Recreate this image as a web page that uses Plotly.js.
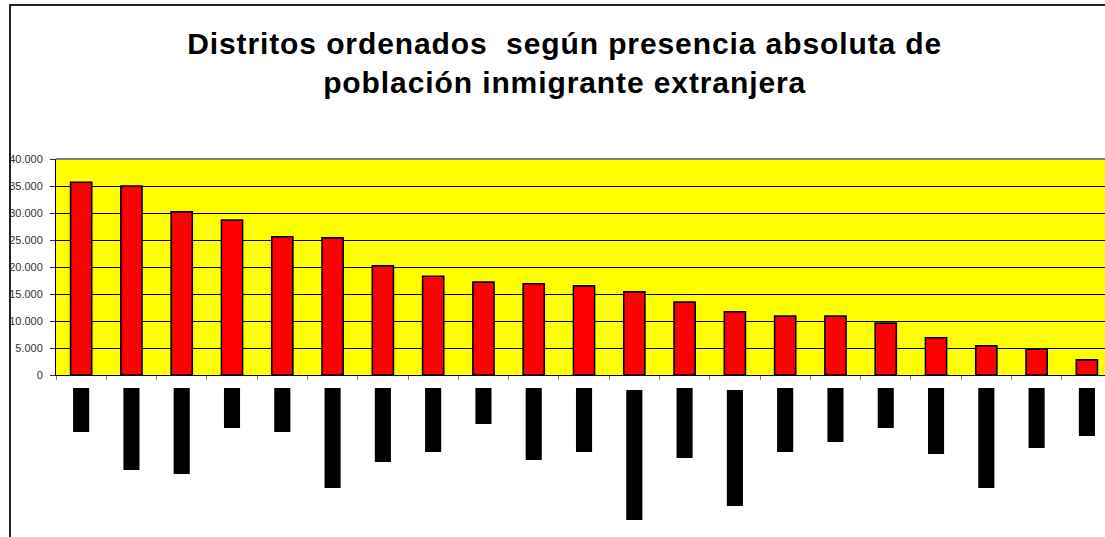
<!DOCTYPE html>
<html>
<head>
<meta charset="utf-8">
<script src="https://cdn.plot.ly/plotly-3.0.1.min.js"></script>
<style>
html,body{margin:0;padding:0;background:#fff;}
#wrap{position:relative;width:1105px;height:537px;overflow:hidden;}
#chart{width:1105px;height:537px;}
#frame{position:absolute;left:9px;top:4px;width:1200px;height:600px;border-left:2px solid #222;border-top:2px solid #222;pointer-events:none;box-sizing:border-box;}
.gtitle{letter-spacing:0.9px;}
</style>
</head>
<body>
<div id="wrap"><div id="chart"></div><div id="frame"></div></div>
<script>
// Districts (names not legible in the reference; labels are blacked out)
const districts = ["D1","D2","D3","D4","D5","D6","D7","D8","D9","D10","D11","D12","D13","D14","D15","D16","D17","D18","D19","D20","D21"];
// Absolute immigrant foreign population per district
const population = [35700, 35000, 30200, 28700, 25600, 25400, 20200, 18300, 17200, 16900, 16500, 15400, 13500, 11700, 10900, 10900, 9600, 6900, 5400, 4800, 2800];
// Lengths of the blacked-out (redacted) category label blocks, arbitrary units
const labelBlock = [44, 82, 86, 40, 44, 100, 74, 64, 36, 72, 64, 130, 70, 116, 64, 54, 40, 66, 100, 60, 48];
const labelOffset = [0, 0, 0, 0, 0, 0, 0, 0, 0, 0, 0, 2, 0, 2, 0, 0, 0, 0, 0, 0, 0];

const FONT = "Liberation Sans, Arial, sans-serif";

const traces = [
  {
    type: "bar",
    x: districts,
    y: population,
    marker: {color: "#FF0000", line: {color: "#000000", width: 1.6}},
    width: 0.42,
    hoverinfo: "x+y",
    xaxis: "x", yaxis: "y"
  },
  {
    type: "bar",
    x: districts,
    y: labelBlock,
    base: labelOffset,
    marker: {color: "#000000", line: {width: 0}},
    width: 0.32,
    hoverinfo: "skip",
    xaxis: "x2", yaxis: "y2"
  }
];

const layout = {
  width: 1105, height: 537,
  margin: {l: 56, r: 0, t: 159, b: 0, pad: 0},
  paper_bgcolor: "#ffffff",
  plot_bgcolor: "rgba(0,0,0,0)",
  showlegend: false,
  separators: ",.",
  font: {family: FONT, color: "#000"},
  title: {
    text: "<b>Distritos ordenados  según presencia absoluta de<br>población inmigrante extranjera</b>",
    font: {family: FONT, size: 30, color: "#000"},
    xref: "container", x: 0.511, xanchor: "center",
    yref: "container", y: 0.899, yanchor: "top"
  },
  xaxis: {
    domain: [0, 1],
    range: [-0.5, 20.36],
    anchor: "y",
    showticklabels: false,
    ticks: "outside", ticklen: 4, tickcolor: "#808080", tickwidth: 1,
    tickson: "boundaries",
    showgrid: false,
    showline: true, linecolor: "#000", linewidth: 1,
    zeroline: false,
    fixedrange: true
  },
  yaxis: {
    domain: [162/378, 1],
    range: [0, 40000],
    dtick: 5000,
    tickformat: ",d",
    ticks: "outside", ticklen: 5, tickcolor: "#333", tickwidth: 1,
    ticklabelstandoff: 5,
    tickfont: {family: FONT, size: 11, color: "#333"},
    showgrid: true, gridcolor: "#000", gridwidth: 1,
    showline: true, linecolor: "#000", linewidth: 1,
    zeroline: false,
    fixedrange: true
  },
  xaxis2: {
    domain: [0, 1],
    matches: "x",
    anchor: "y2",
    visible: false,
    fixedrange: true
  },
  yaxis2: {
    domain: [0, 149/378],
    range: [149, 0],
    visible: false,
    fixedrange: true
  },
  shapes: [
    // yellow plot background
    {type: "rect", xref: "paper", yref: "y domain", x0: 0, x1: 1, y0: 0, y1: 1,
     fillcolor: "#FFFF00", line: {width: 0}, layer: "below"},
    // grey top border of plot area
    {type: "line", xref: "paper", yref: "y domain", x0: 0, x1: 1, y0: 1, y1: 1,
     line: {color: "#808080", width: 2}}
  ]
};

Plotly.newPlot("chart", traces, layout, {displayModeBar: false, staticPlot: true});
</script>
</body>
</html>
